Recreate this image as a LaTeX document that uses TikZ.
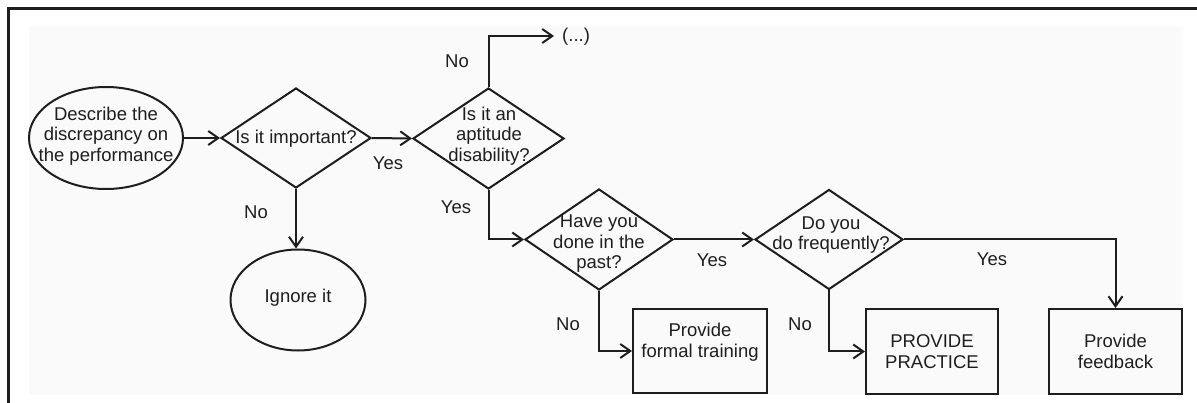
\documentclass[tikz,border=0pt]{standalone}
\usepackage{fontspec}
\setmainfont{Liberation Sans}
\usetikzlibrary{shapes.geometric,arrows.meta}
\definecolor{ink}{HTML}{1E1E1E}
\definecolor{panel}{HTML}{FAFAFA}
\begin{document}
\begin{tikzpicture}[x=1pt,y=-1pt,
  every node/.style={font=\fontsize{18.5}{20.5}\selectfont, text=ink},
  shp/.style={draw=ink, line width=2pt, inner sep=0pt},
  ell/.style={shp, ellipse},
  dia/.style={shp, diamond},
  box/.style={shp, rectangle, align=center},
  txt/.style={align=center, inner sep=0pt},
  lbl/.style={inner sep=0pt},
  conn/.style={draw=ink, line width=2pt, -{Straight Barb[length=10pt,width=14pt,line width=2pt]}}
]
\useasboundingbox (0,0) rectangle (1197,403);
\fill[white] (0,0) rectangle (1197,403);
\fill[panel] (29,26) rectangle (1183,395);
\draw[ink, line width=3pt] (8,403) -- (8,9) -- (1197,9);

% shapes
\node[ell, minimum width=154pt, minimum height=102pt] (e1) at (106,138) {};
\node[txt] (e1t) at (106,136) {Describe the\\discrepancy on\\the performance};
\node[dia, minimum width=150pt, minimum height=100pt] (d1) at (296,138) {};
\node[txt] (d1t) at (296,139) {Is it important?};
\node[ell, minimum width=135pt, minimum height=101pt] (ig) at (298,300) {};
\node[txt] (igt) at (298,298) {Ignore it};
\node[dia, minimum width=151pt, minimum height=101pt] (d2) at (488.5,138.5) {};
\node[txt] (d2t) at (489,136) {Is it an\\aptitude\\disability?};
\node[dia, minimum width=148pt, minimum height=101pt] (d3) at (599,239.5) {};
\node[txt] (d3t) at (599,244) {Have you\\done in the\\past?};
\node[dia, minimum width=148pt, minimum height=100pt] (d4) at (829,239.5) {};
\node[txt] (d4t) at (831,235) {Do you\\do frequently?};
\node[box, minimum width=134pt, minimum height=84pt] (b1) at (700,351) {};
\node[txt] (b1t) at (700,342) {Provide\\formal training};
\node[box, minimum width=132pt, minimum height=85pt] (b2) at (932,351.5) {PROVIDE\\PRACTICE};
\node[box, minimum width=133pt, minimum height=85pt] (b3) at (1115.5,351.5) {Provide\\feedback};
\node[lbl, anchor=west] (more) at (562,37) {(...)};
\coordinate (moreend) at (554,36);

% connectors
\draw[conn] (e1.east) -- (d1.west);
\draw[conn] (d1.east) -- (d2.west);
\draw[conn] (d1.south) -- (d1.south |- ig.north);
\draw[conn] (d2.north) |- (moreend);
\draw[conn] (d2.south) |- (d3.west);
\draw[conn] (d3.east) -- (d4.west);
\draw[conn] (d3.south) |- (b1.west);
\draw[conn] (d4.south) |- (b2.west);
\draw[conn] (d4.east) -| (b3.north);

% labels
\node[lbl] (l1) at (388,163) {Yes};
\node[lbl] (l2) at (256,212) {No};
\node[lbl] (l3) at (457,61) {No};
\node[lbl] (l4) at (456,207) {Yes};
\node[lbl] (l5) at (712,260) {Yes};
\node[lbl] (l6) at (568,324) {No};
\node[lbl] (l7) at (992,259) {Yes};
\node[lbl] (l8) at (800,324) {No};
\end{tikzpicture}
\end{document}
